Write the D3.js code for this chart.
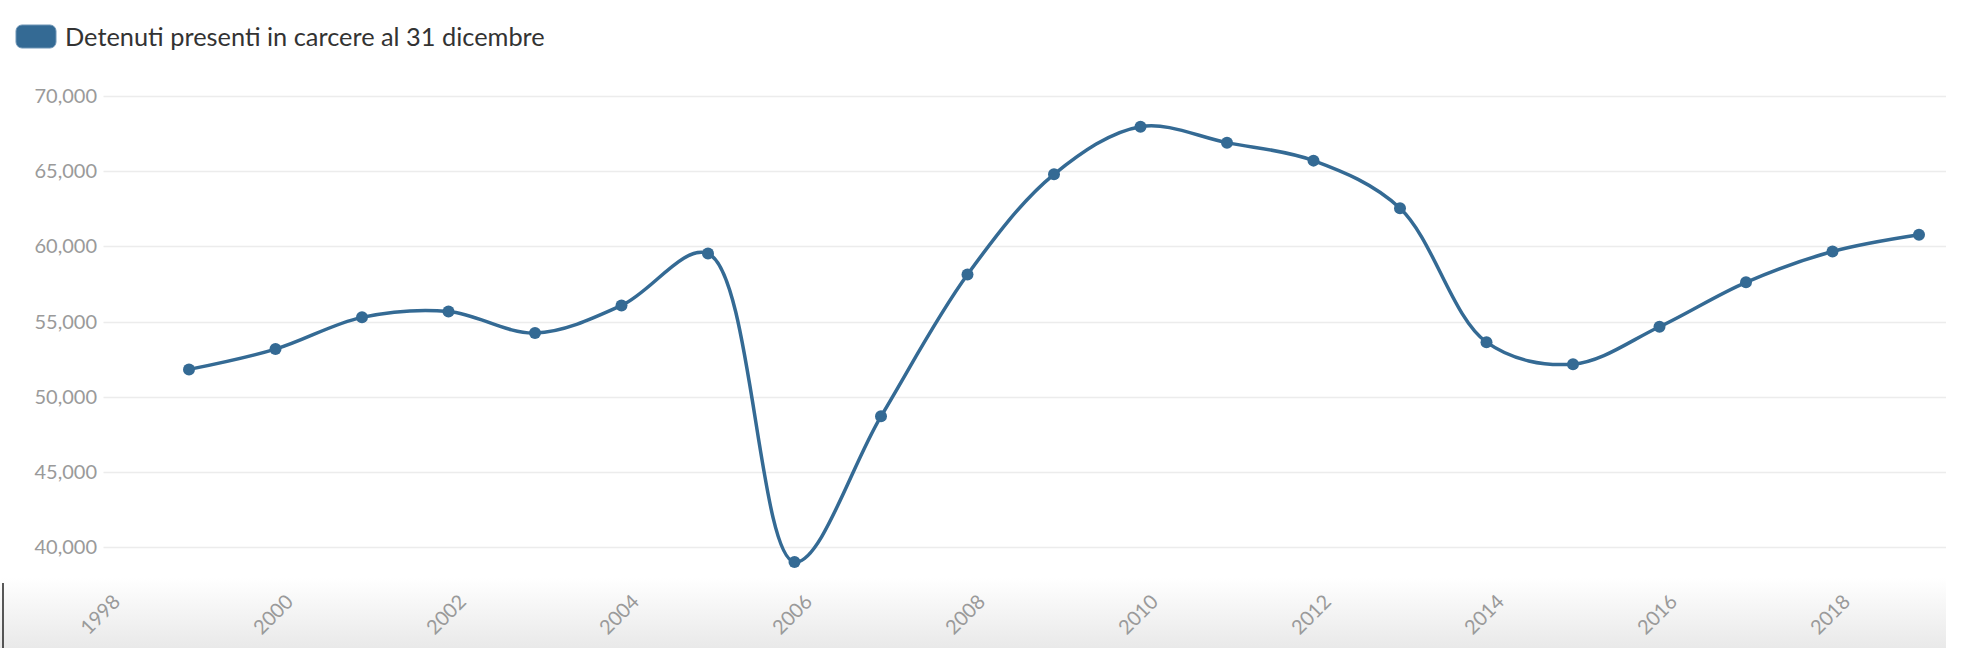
<!DOCTYPE html>
<meta charset="utf-8">
<style>
  body { margin: 0; background: #fff; }
  svg { display: block; }
</style>
<script src="https://d3js.org/d3.v7.min.js"></script>
<div id="chart"></div>
<script>

// data: prisoners present at 31 December each year
var years = [1999, 2000, 2001, 2002, 2003, 2004, 2005, 2006, 2007, 2008, 2009,
             2010, 2011, 2012, 2013, 2014, 2015, 2016, 2017, 2018, 2019];
var detenuti = [51814, 53165, 55275, 55670, 54237, 56068, 59523, 39005, 48693, 58127, 64791,
                67961, 66897, 65701, 62536, 53623, 52164, 54653, 57608, 59655, 60769];
var yTicks = [40000, 45000, 50000, 55000, 60000, 65000, 70000];
var xTicks = [1998, 2000, 2002, 2004, 2006, 2008, 2010, 2012, 2014, 2016, 2018];
var seriesName = "Detenuti presenti in carcere al 31 dicembre";

var W = 1964, H = 648;
var color = "#346a94";
var font = "Lato, 'Source Sans Pro', sans-serif";

var svg = d3.select("#chart").append("svg")
  .attr("width", W)
  .attr("height", H);

// soft grey shadow along the bottom edge
var grad = svg.append("defs").append("linearGradient")
  .attr("id", "bottomShade")
  .attr("x1", 0).attr("y1", 0).attr("x2", 0).attr("y2", 1);
grad.append("stop").attr("offset", "0%").attr("stop-color", "#ffffff");
grad.append("stop").attr("offset", "100%").attr("stop-color", "#e9e9e9");
svg.append("rect")
  .attr("x", 0).attr("y", 578)
  .attr("width", 1946).attr("height", H - 578)
  .attr("fill", "url(#bottomShade)");
svg.append("line")
  .attr("x1", 3).attr("x2", 3)
  .attr("y1", 583).attr("y2", H)
  .attr("stroke", "#222")
  .attr("stroke-width", 1.5);

// scales
var x = d3.scaleLinear()
  .domain([1998, 2019])
  .range([102.5, 1919]);
var y = d3.scaleLinear()
  .domain([40000, 70000])
  .range([547, 96]);

var gridRight = 1946;

// horizontal gridlines
svg.append("g")
  .selectAll("line")
  .data(yTicks)
  .enter()
  .append("line")
    .attr("x1", x(1998) + 1)
    .attr("x2", gridRight)
    .attr("y1", function(d) { return Math.round(y(d)) + 0.5; })
    .attr("y2", function(d) { return Math.round(y(d)) + 0.5; })
    .attr("stroke", "#ececec")
    .attr("stroke-width", 1.5);

// y axis labels
var fmt = d3.format(",");
svg.append("g")
  .selectAll("text")
  .data(yTicks)
  .enter()
  .append("text")
    .attr("x", 97)
    .attr("y", function(d) { return y(d); })
    .attr("dy", "0.35em")
    .attr("text-anchor", "end")
    .style("font", "20px " + font)
    .attr("fill", "#9a9a9a")
    .text(function(d) { return fmt(d); });

// x axis labels, rotated
svg.append("g")
  .selectAll("text")
  .data(xTicks)
  .enter()
  .append("text")
    .attr("transform", function(d) { return "translate(" + (x(d) + 19) + ",603) rotate(-45)"; })
    .attr("text-anchor", "end")
    .style("font", "20px " + font)
    .attr("fill", "#9a9a9a")
    .text(function(d) { return d; });

// the line
var data = years.map(function(yr, i) { return { year: yr, value: detenuti[i] }; });

svg.append("path")
  .datum(data)
  .attr("fill", "none")
  .attr("stroke", color)
  .attr("stroke-width", 3.5)
  .attr("d", d3.line()
    .curve(d3.curveCatmullRom.alpha(0.5))
    .x(function(d) { return x(d.year); })
    .y(function(d) { return y(d.value); })
  );

// markers
svg.append("g")
  .selectAll("circle")
  .data(data)
  .enter()
  .append("circle")
    .attr("cx", function(d) { return x(d.year); })
    .attr("cy", function(d) { return y(d.value); })
    .attr("r", 6)
    .attr("fill", color);

// legend
svg.append("rect")
  .attr("x", 16).attr("y", 25)
  .attr("width", 40).attr("height", 23)
  .attr("rx", 6).attr("ry", 6)
  .attr("fill", color)
  .attr("stroke", "#6d94b5")
  .attr("stroke-width", 1);

var legendText = svg.append("text")
  .attr("x", 65)
  .attr("y", 37)
  .attr("dy", "0.35em")
  .style("font", "24px " + font)
  .attr("fill", "#333")
  .text(seriesName);

// fit the legend label to the width it has in the original
var wanted = 480;
var got = legendText.node().getComputedTextLength();
legendText.style("font-size", (24 * wanted / got).toFixed(2) + "px");

</script>
